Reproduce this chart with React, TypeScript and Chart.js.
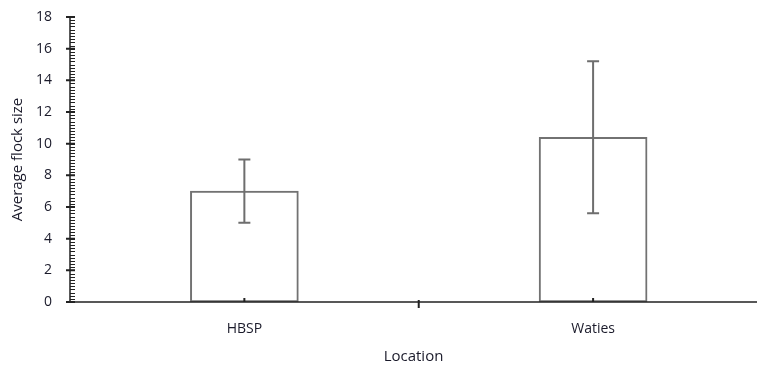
import React, { useEffect, useRef } from "react";
import { Chart, registerables } from "chart.js";

Chart.register(...registerables);

const categories = ["HBSP", "Waties"];
const means = [7, 10.4];
const errors = [2, 4.8];
const yTickValues = [0, 2, 4, 6, 8, 10, 12, 14, 16, 18];
const yMinorStep = 0.2;

const FONT = "'Open Sans', sans-serif";
const TEXT = "#1a1a2a";

const customAxes = {
  id: "customAxes",
  afterDatasetsDraw(chart: any) {
    const { ctx, chartArea } = chart;
    const xs = chart.scales.x;
    const ys = chart.scales.y;
    const left = chartArea.left;
    const bottom = chartArea.bottom;
    ctx.save();
    // error bars
    ctx.strokeStyle = "#6e6e6e";
    ctx.lineWidth = 2;
    means.forEach((m, i) => {
      const cx = xs.getPixelForValue(i);
      const yt = ys.getPixelForValue(m + errors[i]);
      const yb = ys.getPixelForValue(m - errors[i]);
      ctx.beginPath();
      ctx.moveTo(cx, yt);
      ctx.lineTo(cx, yb);
      ctx.moveTo(cx - 6, yt);
      ctx.lineTo(cx + 6, yt);
      ctx.moveTo(cx - 6, yb);
      ctx.lineTo(cx + 6, yb);
      ctx.stroke();
    });
    // axes
    ctx.strokeStyle = "#222";
    ctx.lineWidth = 1.5;
    ctx.beginPath();
    ctx.moveTo(left, ys.getPixelForValue(18) - 1);
    ctx.lineTo(left, bottom);
    ctx.lineTo(chart.width, bottom);
    ctx.stroke();
    // minor ticks
    ctx.lineWidth = 1;
    ctx.beginPath();
    const n = Math.round(18 / yMinorStep);
    for (let k = 0; k <= n; k++) {
      const py = Math.round(ys.getPixelForValue(k * yMinorStep)) + 0.5;
      ctx.moveTo(left, py);
      ctx.lineTo(left + 5, py);
    }
    ctx.stroke();
    // major ticks
    ctx.lineWidth = 2;
    ctx.beginPath();
    yTickValues.forEach((v) => {
      const py = ys.getPixelForValue(v);
      ctx.moveTo(left - 4, py);
      ctx.lineTo(left + 5, py);
    });
    // x ticks
    const dx = xs.getPixelForValue(0.5);
    ctx.moveTo(dx, bottom - 2);
    ctx.lineTo(dx, bottom + 6);
    categories.forEach((_, i) => {
      const cx = xs.getPixelForValue(i);
      ctx.moveTo(cx, bottom - 4);
      ctx.lineTo(cx, bottom);
    });
    ctx.stroke();
    ctx.restore();
  },
};

export default function App() {
  const ref = useRef<HTMLCanvasElement>(null);
  useEffect(() => {
    document.body.style.margin = "0";
    const chart = new Chart(ref.current as HTMLCanvasElement, {
      type: "bar",
      data: {
        datasets: [
          {
            data: means.map((v, i) => ({ x: i, y: v })),
            backgroundColor: "#ffffff",
            borderColor: "#727272",
            borderWidth: 2,
            borderSkipped: false,
            barThickness: 108,
          } as any,
        ],
      },
      options: {
        responsive: false,
        animation: false,
        layout: { padding: { top: 17, right: 0, bottom: 0, left: 0 } },
        plugins: { legend: { display: false }, tooltip: { enabled: false } },
        scales: {
          x: {
            type: "linear",
            min: -0.5,
            max: 1.47,
            offset: false,
            grace: 0,
            grid: { display: false, drawTicks: true, tickLength: 19, offset: false },
            border: { display: false },
            afterBuildTicks: (s: any) => {
              s.ticks = categories.map((_, i) => ({ value: i }));
            },
            afterFit: (s: any) => {
              s.height = 64;
            },
            ticks: {
              autoSkip: false,
              maxRotation: 0,
              padding: 0,
              color: TEXT,
              font: { family: FONT, size: 14 },
              callback: (v: any) => categories[Math.round(Number(v))] ?? "",
            },
            title: {
              display: true,
              text: "Location",
              color: TEXT,
              font: { family: FONT, size: 15 },
              padding: { top: 0, bottom: 0 },
            },
          } as any,
          y: {
            min: 0,
            max: 18,
            grid: { display: false, drawTicks: true, tickLength: 18 },
            border: { display: false },
            afterBuildTicks: (s: any) => {
              s.ticks = yTickValues.map((v) => ({ value: v }));
            },
            afterFit: (s: any) => {
              s.width = 70;
            },
            ticks: {
              padding: 0,
              color: TEXT,
              font: { family: FONT, size: 14 },
            },
            title: {
              display: true,
              text: "Average flock size",
              color: TEXT,
              font: { family: FONT, size: 15 },
              padding: { top: 9, bottom: 0 },
            },
          },
        },
      },
      plugins: [customAxes],
    });
    return () => chart.destroy();
  }, []);
  return (
    <div style={{ width: 757, height: 366 }}>
      <canvas ref={ref} width={757} height={366} />
    </div>
  );
}
